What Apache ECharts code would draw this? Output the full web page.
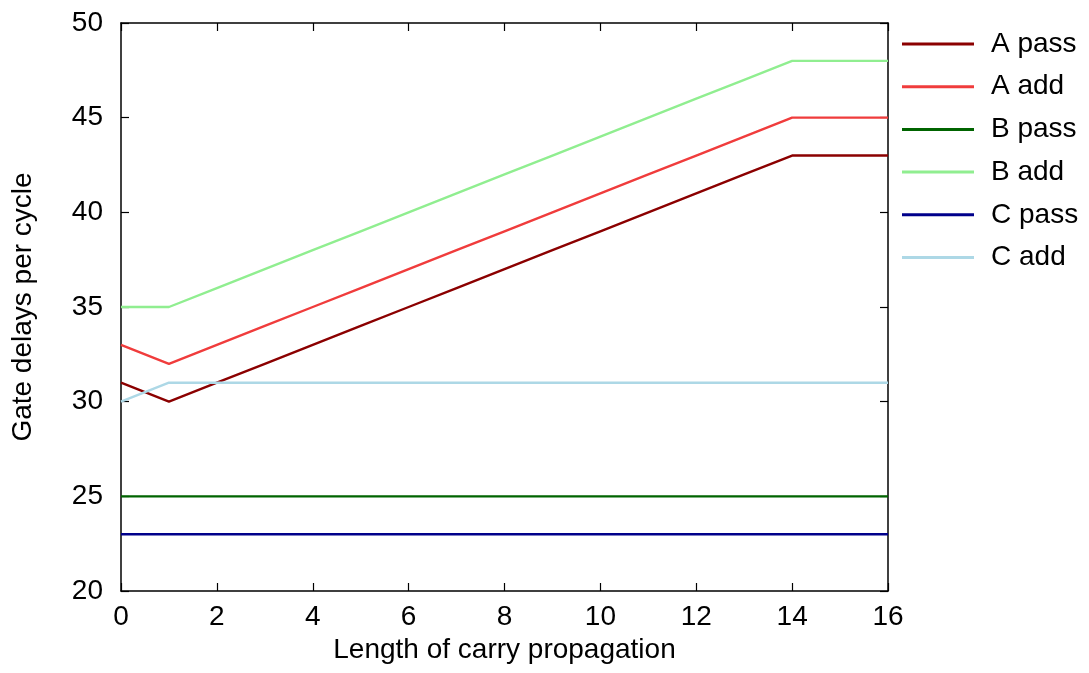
<!DOCTYPE html>
<html>
<head>
<meta charset="utf-8">
<script src="https://cdn.jsdelivr.net/npm/echarts@6/dist/echarts.min.js"></script>
<style>
  html, body { margin: 0; padding: 0; background: #fff; }
  #main { width: 1089px; height: 673px; }
</style>
</head>
<body>
<div id="main"></div>
<script>
var xValues = [0, 1, 2, 3, 4, 5, 6, 7, 8, 9, 10, 11, 12, 13, 14, 15, 16];

var aPass = [31, 30, 31, 32, 33, 34, 35, 36, 37, 38, 39, 40, 41, 42, 43, 43, 43];
var aAdd  = [33, 32, 33, 34, 35, 36, 37, 38, 39, 40, 41, 42, 43, 44, 45, 45, 45];
var bPass = [25, 25, 25, 25, 25, 25, 25, 25, 25, 25, 25, 25, 25, 25, 25, 25, 25];
var bAdd  = [35, 35, 36, 37, 38, 39, 40, 41, 42, 43, 44, 45, 46, 47, 48, 48, 48];
var cPass = [23, 23, 23, 23, 23, 23, 23, 23, 23, 23, 23, 23, 23, 23, 23, 23, 23];
var cAdd  = [30, 31, 31, 31, 31, 31, 31, 31, 31, 31, 31, 31, 31, 31, 31, 31, 31];

var seriesNames = ['A pass', 'A add', 'B pass', 'B add', 'C pass', 'C add'];
var seriesValues = [aPass, aAdd, bPass, bAdd, cPass, cAdd];
var seriesColors = ['#8b0000', '#f03c3c', '#006400', '#90ee90', '#00008b', '#add8e6'];

var fontFamily = '"Liberation Sans", Arial, sans-serif';
var fontSize = 28;

var chartDom = document.getElementById('main');
var myChart = echarts.init(chartDom);

function pairs(values) {
  return xValues.map(function (x, i) { return [x, values[i]]; });
}

var axisLine = { show: true, onZero: false, lineStyle: { color: '#000', width: 1.5 } };
var axisTick = { show: true, inside: true, length: 8, lineStyle: { color: '#000', width: 1.2 } };

var option = {
  backgroundColor: '#fff',
  animation: false,
  textStyle: { fontFamily: fontFamily },
  grid: { left: 121, right: 201, top: 23, bottom: 82 },
  legend: {
    orient: 'vertical',
    left: 897,
    top: 25,
    itemWidth: 72,
    itemHeight: 3,
    itemGap: 14.7,
    icon: 'rect',
    textStyle: {
      fontSize: fontSize,
      lineHeight: 28,
      color: '#000',
      fontFamily: fontFamily,
      padding: [0, 0, 0, 12]
    },
    data: seriesNames
  },
  xAxis: [
    {
      type: 'value',
      min: 0,
      max: 16,
      interval: 2,
      name: 'Length of carry propagation',
      nameLocation: 'middle',
      nameGap: 43,
      nameTextStyle: { fontSize: fontSize, color: '#000' },
      axisLine: axisLine,
      axisTick: axisTick,
      axisLabel: { fontSize: fontSize, color: '#000', margin: 12 },
      splitLine: { show: false }
    },
    {
      type: 'value',
      position: 'top',
      min: 0,
      max: 16,
      interval: 2,
      axisLine: axisLine,
      axisTick: axisTick,
      axisLabel: { show: false },
      splitLine: { show: false }
    }
  ],
  yAxis: [
    {
      type: 'value',
      min: 20,
      max: 50,
      interval: 5,
      name: 'Gate delays per cycle',
      nameLocation: 'middle',
      nameGap: 84,
      nameTextStyle: { fontSize: fontSize, color: '#000' },
      axisLine: axisLine,
      axisTick: axisTick,
      axisLabel: { fontSize: fontSize, color: '#000', margin: 18 },
      splitLine: { show: false }
    },
    {
      type: 'value',
      position: 'right',
      min: 20,
      max: 50,
      interval: 5,
      axisLine: axisLine,
      axisTick: axisTick,
      axisLabel: { show: false },
      splitLine: { show: false }
    }
  ],
  series: seriesNames.map(function (name, i) {
    return {
      name: name,
      type: 'line',
      data: pairs(seriesValues[i]),
      showSymbol: false,
      symbol: 'none',
      color: seriesColors[i],
      lineStyle: { width: 2.4, color: seriesColors[i] }
    };
  })
};

option && myChart.setOption(option);
</script>
</body>
</html>
